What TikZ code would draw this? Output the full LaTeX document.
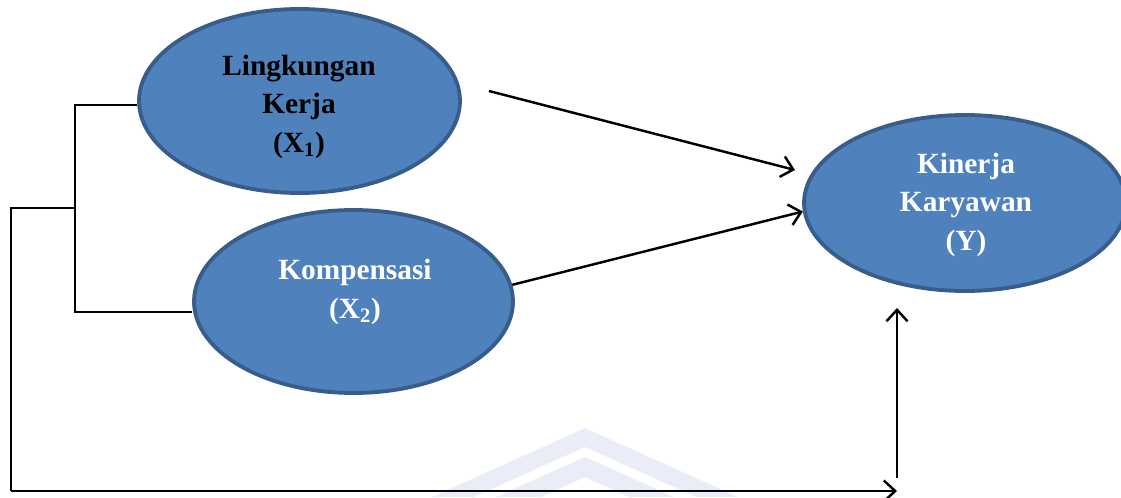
\documentclass[tikz,border=0pt]{standalone}
\usepackage{fontspec}
\setmainfont{Liberation Serif}
\usetikzlibrary{arrows.meta,shapes.geometric}
\definecolor{varfill}{RGB}{79,129,189}
\definecolor{varline}{RGB}{56,93,138}
\definecolor{wmark}{RGB}{234,237,248}
\tikzset{
  var/.style={ellipse, draw=varline, line width=2.2pt, fill=varfill, inner sep=0pt},
  vartext/.style={font=\fontsize{16.7}{21.8}\selectfont\bfseries, align=center, anchor=base},
  link/.style={line width=1.4pt},
  arrowline/.style={link, -{Straight Barb[length=6.5pt,width=12pt]}}
}
\begin{document}
\begin{tikzpicture}[x=0.02cm, y=-0.02cm]
  \useasboundingbox (0,0) rectangle (1121,497);
  % faint watermark
  \fill[wmark] (585,428) -- (432,497) -- (474,497) -- (585,447)
    -- (696,497) -- (738,497) -- cycle;
  \fill[wmark] (585,457) -- (496,497) -- (541,497) -- (585,477)
    -- (629,497) -- (674,497) -- cycle;
  % variables
  \node[var, minimum width=6.42cm, minimum height=3.68cm] (lk) at (299.5,101) {};
  \node[var, minimum width=6.38cm, minimum height=3.66cm] (kom) at (353.5,301.5) {};
  \node[var, minimum width=6.44cm, minimum height=3.52cm] (kk) at (965,203) {};
  \node[vartext] (lktext) at (299,152) {Lingkungan\\Kerja\\(X\textsubscript{1})};
  \node[vartext, white] (komtext) at (355,318) {Kompensasi\\(X\textsubscript{2})};
  \node[vartext, white] (kktext) at (966,250) {Kinerja\\Karyawan\\(Y)};
  % free ends
  \coordinate (brtop) at (75,105);
  \coordinate (brmid) at (75,208);
  \coordinate (brbot) at (75,312);
  \coordinate (brleft) at (11,208);
  \coordinate (brcorner) at (11,491);
  \coordinate (botend) at (897,491);
  \coordinate (upstart) at (897,478);
  \coordinate (uptip) at (897,308);
  \coordinate (lkout) at (489,91);
  \coordinate (kkin) at (795,170);
  \draw[link] (lk.west |- brtop) -- (brtop) -- (brbot) -- (kom.west |- brbot);
  \draw[link] (brmid) -- (brleft) -- (brcorner);
  \draw[arrowline] (brcorner) -- (botend);
  \draw[arrowline] (upstart) -- (uptip);
  \draw[arrowline] (lkout) -- (kkin);
  \draw[arrowline] (kom.6) -- (kk.183);
\end{tikzpicture}
\end{document}
